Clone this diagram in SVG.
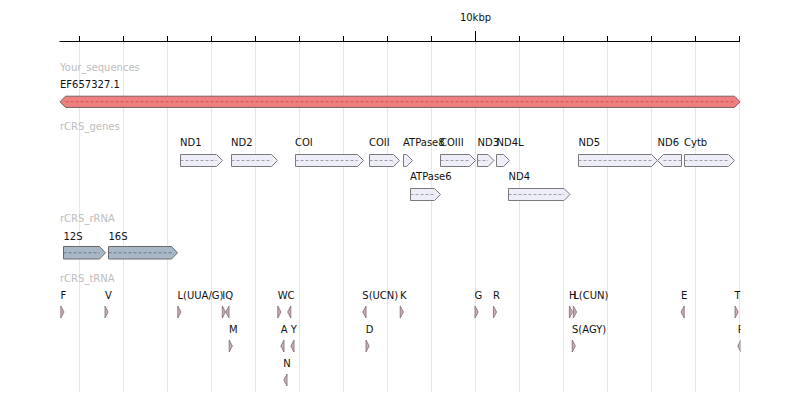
<svg xmlns="http://www.w3.org/2000/svg" width="800" height="405" viewBox="0 0 800 405">
<defs>
<style>
text{font-family:"DejaVu Sans","Liberation Sans",sans-serif;font-size:10px;fill:#111}
.trk{fill:#bdbdbd}
.grid{stroke:#e6e6e6;stroke-width:1}
.tick{stroke:#000;stroke-width:1}
.gene{fill:#eeeef9;stroke:#7a7a7a;stroke-width:1}
.rrna{fill:#a9b8c6;stroke:#6a6a6a;stroke-width:1}
.trna{fill:#c9aeb9;stroke:#806a76;stroke-width:0.8}
.seq{fill:#f08080;stroke:#7a6060;stroke-width:1}
.dash{stroke:#8a8a9a;stroke-width:0.8;stroke-dasharray:3,2;fill:none}
.dashr{stroke:#c04848;stroke-width:0.8;stroke-dasharray:3,2;fill:none}
.dashg{stroke:#5a6878;stroke-width:0.8;stroke-dasharray:3,2;fill:none}
</style>
<clipPath id="clip"><rect x="0" y="0" width="740.5" height="405"/></clipPath>
</defs>
<rect width="800" height="405" fill="#fff"/>
<g id="grid">
<line class="grid" x1="79.5" y1="41" x2="79.5" y2="392"/>
<line class="grid" x1="123.5" y1="41" x2="123.5" y2="392"/>
<line class="grid" x1="167.5" y1="41" x2="167.5" y2="392"/>
<line class="grid" x1="211.5" y1="41" x2="211.5" y2="392"/>
<line class="grid" x1="255.5" y1="41" x2="255.5" y2="392"/>
<line class="grid" x1="299.5" y1="41" x2="299.5" y2="392"/>
<line class="grid" x1="343.5" y1="41" x2="343.5" y2="392"/>
<line class="grid" x1="387.5" y1="41" x2="387.5" y2="392"/>
<line class="grid" x1="431.5" y1="41" x2="431.5" y2="392"/>
<line class="grid" x1="475.5" y1="41" x2="475.5" y2="392"/>
<line class="grid" x1="519.5" y1="41" x2="519.5" y2="392"/>
<line class="grid" x1="563.5" y1="41" x2="563.5" y2="392"/>
<line class="grid" x1="607.5" y1="41" x2="607.5" y2="392"/>
<line class="grid" x1="651.5" y1="41" x2="651.5" y2="392"/>
<line class="grid" x1="695.5" y1="41" x2="695.5" y2="392"/>
<line class="grid" x1="739.5" y1="41" x2="739.5" y2="392"/>
</g>
<g id="axis">
<line class="tick" x1="59.5" y1="41.5" x2="740" y2="41.5"/>
<line class="tick" x1="79.5" y1="36" x2="79.5" y2="41.5"/>
<line class="tick" x1="123.5" y1="36" x2="123.5" y2="41.5"/>
<line class="tick" x1="167.5" y1="36" x2="167.5" y2="41.5"/>
<line class="tick" x1="211.5" y1="36" x2="211.5" y2="41.5"/>
<line class="tick" x1="255.5" y1="36" x2="255.5" y2="41.5"/>
<line class="tick" x1="299.5" y1="36" x2="299.5" y2="41.5"/>
<line class="tick" x1="343.5" y1="36" x2="343.5" y2="41.5"/>
<line class="tick" x1="387.5" y1="36" x2="387.5" y2="41.5"/>
<line class="tick" x1="431.5" y1="36" x2="431.5" y2="41.5"/>
<line class="tick" x1="475.5" y1="31" x2="475.5" y2="41.5"/>
<line class="tick" x1="519.5" y1="36" x2="519.5" y2="41.5"/>
<line class="tick" x1="563.5" y1="36" x2="563.5" y2="41.5"/>
<line class="tick" x1="607.5" y1="36" x2="607.5" y2="41.5"/>
<line class="tick" x1="651.5" y1="36" x2="651.5" y2="41.5"/>
<line class="tick" x1="695.5" y1="36" x2="695.5" y2="41.5"/>
<line class="tick" x1="739.5" y1="36" x2="739.5" y2="41.5"/>
<text x="475.5" y="20.5" text-anchor="middle">10kbp</text>
</g>
<g id="track_labels">
<text class="trk" x="60" y="70.5">Your_sequences</text>
<text class="trk" x="60" y="129.5">rCRS_genes</text>
<text class="trk" x="60" y="222">rCRS_rRNA</text>
<text class="trk" x="60" y="281.5">rCRS_tRNA</text>
</g>
<g id="EF657327.1">
<text x="60" y="87.5">EF657327.1</text>
<polygon class="seq" points="60,101.8 65.5,96.2 734.5,96.2 740,101.8 734.5,107.4 65.5,107.4"/>
<line class="dashr" x1="65.5" y1="101.8" x2="734.5" y2="101.8"/>
</g>
<g id="genes">
<g id="ND1"><text x="180" y="146">ND1</text><polygon class="gene" points="180.5,154.5 216.5,154.5 222.5,160.5 216.5,166.5 180.5,166.5"/><line class="dash" x1="180.5" y1="160.5" x2="216.5" y2="160.5"/></g>
<g id="ND2"><text x="231" y="146">ND2</text><polygon class="gene" points="231.5,154.5 271.5,154.5 277.5,160.5 271.5,166.5 231.5,166.5"/><line class="dash" x1="231.5" y1="160.5" x2="271.5" y2="160.5"/></g>
<g id="COI"><text x="295" y="146">COI</text><polygon class="gene" points="295.5,154.5 357.5,154.5 363.5,160.5 357.5,166.5 295.5,166.5"/><line class="dash" x1="295.5" y1="160.5" x2="357.5" y2="160.5"/></g>
<g id="COII"><text x="369" y="146">COII</text><polygon class="gene" points="369.5,154.5 393.5,154.5 399.5,160.5 393.5,166.5 369.5,166.5"/><line class="dash" x1="369.5" y1="160.5" x2="393.5" y2="160.5"/></g>
<g id="ATPase8"><text x="403" y="146">ATPase8</text><polygon class="gene" points="403.5,154.5 406.5,154.5 412.5,160.5 406.5,166.5 403.5,166.5"/></g>
<g id="COIII"><text x="440" y="146">COIII</text><polygon class="gene" points="440.5,154.5 469.5,154.5 475.5,160.5 469.5,166.5 440.5,166.5"/><line class="dash" x1="440.5" y1="160.5" x2="469.5" y2="160.5"/></g>
<g id="ND3"><text x="477.5" y="146">ND3</text><polygon class="gene" points="477.5,154.5 488,154.5 494,160.5 488,166.5 477.5,166.5"/><line class="dash" x1="477.5" y1="160.5" x2="488" y2="160.5"/></g>
<g id="ND4L"><text x="496.5" y="146">ND4L</text><polygon class="gene" points="496.5,154.5 503.5,154.5 509.5,160.5 503.5,166.5 496.5,166.5"/></g>
<g id="ND5"><text x="578.5" y="146">ND5</text><polygon class="gene" points="578.5,154.5 651.5,154.5 657.5,160.5 651.5,166.5 578.5,166.5"/><line class="dash" x1="578.5" y1="160.5" x2="651.5" y2="160.5"/></g>
<g id="ND6"><text x="657.5" y="146">ND6</text><polygon class="gene" points="657.5,160.5 663.5,154.5 681.5,154.5 681.5,166.5 663.5,166.5"/><line class="dash" x1="663.5" y1="160.5" x2="681.5" y2="160.5"/></g>
<g id="Cytb"><text x="684" y="146">Cytb</text><polygon class="gene" points="684.5,154.5 728.5,154.5 734.5,160.5 728.5,166.5 684.5,166.5"/><line class="dash" x1="684.5" y1="160.5" x2="728.5" y2="160.5"/></g>
<g id="ATPase6"><text x="410" y="180">ATPase6</text><polygon class="gene" points="410.5,188.5 434.5,188.5 440.5,194.5 434.5,200.5 410.5,200.5"/><line class="dash" x1="410.5" y1="194.5" x2="434.5" y2="194.5"/></g>
<g id="ND4"><text x="508.5" y="180">ND4</text><polygon class="gene" points="508.5,188.5 564,188.5 570,194.5 564,200.5 508.5,200.5"/><line class="dash" x1="508.5" y1="194.5" x2="564" y2="194.5"/></g>
</g>
<g id="rrna">
<g id="12S"><text x="63.5" y="240">12S</text><polygon class="rrna" points="63.5,246.5 99.5,246.5 105.5,252.8 99.5,259 63.5,259"/><line class="dashg" x1="63.5" y1="252.8" x2="99.5" y2="252.8"/></g>
<g id="16S"><text x="108.5" y="240">16S</text><polygon class="rrna" points="108.5,246.5 171.5,246.5 177.5,252.8 171.5,259 108.5,259"/><line class="dashg" x1="108.5" y1="252.8" x2="171.5" y2="252.8"/></g>
</g>
<g id="trna" clip-path="url(#clip)">
<g id="F"><text x="60.5" y="299">F</text><polygon class="trna" points="60.8,306 64,312 60.8,318"/></g>
<g id="V"><text x="105" y="299">V</text><polygon class="trna" points="105,306 108.2,312 105,318"/></g>
<g id="L_UUA_G"><text x="177.5" y="299">L(UUA/G)</text><polygon class="trna" points="177.8,306 181,312 177.8,318"/></g>
<g id="I"><text x="222.3" y="299">I</text><polygon class="trna" points="222.3,306 225.5,312 222.3,318"/></g>
<g id="Q"><text x="225.2" y="299">Q</text><polygon class="trna" points="229,306 225.8,312 229,318"/></g>
<g id="M"><text x="229" y="333">M</text><polygon class="trna" points="229.2,340 232.4,346 229.2,352"/></g>
<g id="W"><text x="277.7" y="299">W</text><polygon class="trna" points="277.8,306 281,312 277.8,318"/></g>
<g id="C"><text x="287.5" y="299">C</text><polygon class="trna" points="290.8,306 287.6,312 290.8,318"/></g>
<g id="A"><text x="280.7" y="333">A</text><polygon class="trna" points="284,340 280.8,346 284,352"/></g>
<g id="Y"><text x="290.7" y="333">Y</text><polygon class="trna" points="294,340 290.8,346 294,352"/></g>
<g id="N"><text x="283.3" y="367">N</text><polygon class="trna" points="287,374 283.8,380 287,386"/></g>
<g id="S_UCN"><text x="362.3" y="299">S(UCN)</text><polygon class="trna" points="366,306 362.8,312 366,318"/></g>
<g id="K"><text x="400" y="299">K</text><polygon class="trna" points="400.2,306 403.4,312 400.2,318"/></g>
<g id="D"><text x="365.7" y="333">D</text><polygon class="trna" points="366,340 369.2,346 366,352"/></g>
<g id="G"><text x="474.5" y="299">G</text><polygon class="trna" points="475,306 478.2,312 475,318"/></g>
<g id="R"><text x="493" y="299">R</text><polygon class="trna" points="493.4,306 496.6,312 493.4,318"/></g>
<g id="H"><text x="569" y="299">H</text><polygon class="trna" points="569.4,306 572.6,312 569.4,318"/></g>
<g id="L_CUN"><text x="573.3" y="299">L(CUN)</text><polygon class="trna" points="573.4,306 576.6,312 573.4,318"/></g>
<g id="S_AGY"><text x="572" y="333">S(AGY)</text><polygon class="trna" points="572.2,340 575.4,346 572.2,352"/></g>
<g id="E"><text x="681" y="299">E</text><polygon class="trna" points="684.2,306 681,312 684.2,318"/></g>
<g id="T"><text x="734.5" y="299">T</text><polygon class="trna" points="735,306 738.2,312 735,318"/></g>
<g id="P"><text x="737.8" y="333">P</text><polygon class="trna" points="741,340 737.8,346 741,352"/></g>
</g>
</svg>
